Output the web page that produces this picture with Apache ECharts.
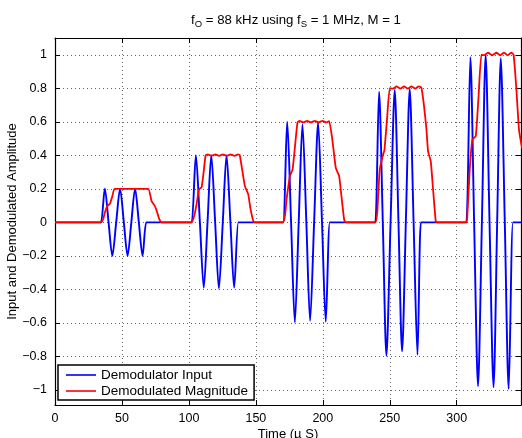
<!DOCTYPE html>
<html>
<head>
<meta charset="utf-8">
<script src="https://cdn.jsdelivr.net/npm/echarts@6/dist/echarts.min.js"></script>
<style>
html, body { margin: 0; padding: 0; background: #fff; }
#main { width: 522px; height: 438px; }
</style>
</head>
<body>
<div id="main"></div>
<script>
// 读图得到的数据 (时间单位 µs)
const inputTime = [
    0, 33,
    34.3, 37.2, 40.0, 42.8, 45.7, 48.6, 51.4, 54.2, 57.0, 59.8, 62.6, 65.4, 68.1, 69.5,
    101,
    102.1, 105.2, 108.2, 111.1, 113.9, 116.7, 119.6, 122.4, 125.3, 128.1, 131.0, 133.8, 136.9, 138.2,
    169,
    170.4, 173.4, 176.3, 179.1, 182.0, 184.8, 187.7, 190.5, 193.5, 196.5, 199.4, 202.2, 205.2, 206.5,
    238,
    239.2, 242.0, 244.8, 247.5, 250.6, 253.7, 256.5, 259.2, 262.0, 264.9, 267.8, 270.7, 273.2, 274.5,
    306,
    307.2, 310.2, 313.0, 315.9, 318.8, 321.6, 324.5, 327.5, 330.2, 332.9, 335.9, 338.8, 342.0, 343.3,
    349
]
const inputValue = [
    0, 0,
    0, 0.2, 0, -0.2, 0, 0.2, 0, -0.2, 0, 0.2, 0, -0.2, 0, 0,
    0,
    0, 0.4, 0, -0.39, 0, 0.4, 0, -0.395, 0, 0.4, 0, -0.39, 0, 0,
    0,
    0, 0.6, 0, -0.597, 0, 0.585, 0, -0.587, 0, 0.595, 0, -0.593, 0, 0,
    0,
    0, 0.78, 0, -0.796, 0, 0.79, 0, -0.77, 0, 0.796, 0, -0.79, 0, 0,
    0,
    0, 0.986, 0, -0.978, 0, 1.0, 0, -0.984, 0, 0.98, 0, -0.994, 0, 0,
    0
]
const magTime = [
    0, 34.3, 36, 37.3, 39.3, 41.0, 42.8, 44.5, 56, 69.6, 72.1, 74.6, 76.3, 77.8, 79.6,
    102.1, 104, 105.7, 107.5, 109.5, 111, 112.5, 114, 117, 119.7, 122.6, 125.4, 128.3, 131.1, 134, 136.8, 138, 141.8, 144.3, 146, 148, 149,
    170.4, 172.9, 175.4, 177.4, 179.3, 181.1, 182.6, 185.4, 188.3, 191.1, 194, 196.8, 199.7, 202.5, 204.7, 207, 209.7, 212.2, 214, 215.9, 217,
    239.2, 241.3, 242.5, 245, 246, 248, 250, 252.5, 255, 258, 260.7, 263.5, 266.2, 269, 271.6, 273.6, 275.5, 277.4, 278.6, 280.6, 282.5, 284.3, 285,
    307.2, 307.9, 309.7, 311.7, 314.2, 316.3, 318.4, 320.5, 323.4, 326.5, 329.6, 332.5, 335.3, 338, 340.8, 342.5, 344.5, 346.5, 348.3, 349
]
const magValue = [
    0, 0, 0.02, 0.06, 0.10, 0.11, 0.155, 0.2, 0.2, 0.2, 0.127, 0.097, 0.06, 0.02, 0,
    0, 0.04, 0.107, 0.196, 0.21, 0.3, 0.4, 0.405, 0.397, 0.405, 0.397, 0.405, 0.397, 0.405, 0.397, 0.405, 0.4, 0.216, 0.167, 0.08, 0.01, 0,
    0, 0.137, 0.276, 0.315, 0.46, 0.597, 0.606, 0.596, 0.606, 0.596, 0.606, 0.596, 0.606, 0.596, 0.604, 0.5, 0.325, 0.276, 0.15, 0.018, 0,
    0, 0.157, 0.315, 0.405, 0.43, 0.62, 0.8, 0.798, 0.811, 0.798, 0.811, 0.798, 0.811, 0.798, 0.811, 0.805, 0.7, 0.554, 0.424, 0.365, 0.18, 0.008, 0,
    0, 0.04, 0.315, 0.494, 0.514, 0.75, 1.0, 0.998, 1.012, 0.997, 1.012, 0.997, 1.012, 0.997, 1.012, 1.0, 0.8, 0.553, 0.464, 0.44
]
const xTicks = [0, 50, 100, 150, 200, 250, 300]
const yTicks = [-1, -0.8, -0.6, -0.4, -0.2, 0, 0.2, 0.4, 0.6, 0.8, 1]
const seriesNames = ['Demodulator Input', 'Demodulated Magnitude']

const font = 'Liberation Sans, Arial, Helvetica, sans-serif'

function zip(xs, ys) {
    return xs.map((x, i) => [x, ys[i]])
}

let myChart = echarts.init(document.getElementById('main'), null, { renderer: 'canvas' })

let axisLineStyle = { color: '#000', width: 1.2 }
let gridLine = { show: true, lineStyle: { color: '#666', width: 1, type: [1, 3] } }

let option = {
    animation: false,
    backgroundColor: '#fff',
    title: {
        text: '{n|f}{s|O}{n| = 88 kHz using f}{s|S}{n| = 1 MHz, M = 1}',
        left: 291,
        top: 6,
        textAlign: 'center',
        textStyle: {
            fontFamily: font,
            fontWeight: 'normal',
            rich: {
                n: { fontSize: 13.2, color: '#000', fontFamily: font },
                s: { fontSize: 9.5, color: '#000', fontFamily: font, padding: [8, 0, 0, 0] }
            }
        }
    },
    legend: {
        orient: 'vertical',
        left: 58,
        top: 365,
        data: seriesNames,
        icon: 'rect',
        itemWidth: 30,
        itemHeight: 1.6,
        itemGap: 2,
        padding: [3, 6, 2, 8],
        backgroundColor: '#fff',
        borderColor: '#000',
        borderWidth: 1.5,
        borderRadius: 0,
        textStyle: { fontFamily: font, fontSize: 13.5, color: '#000' }
    },
    grid: { left: 55, right: 1, top: 38, bottom: 33, containLabel: false, outerBoundsMode: 'none' },
    xAxis: [
        {
            type: 'value',
            min: 0,
            max: 348,
            position: 'bottom',
            name: 'Time (\u00b5 S)',
            nameLocation: 'middle',
            nameGap: 23,
            nameMoveOverlap: false,
            nameTextStyle: { fontFamily: font, fontSize: 13, color: '#000' },
            axisLine: { show: true, onZero: false, lineStyle: axisLineStyle },
            axisTick: { show: true, inside: true, length: 5, customValues: xTicks, lineStyle: { color: '#000' } },
            axisLabel: { customValues: xTicks, margin: 7, fontFamily: font, fontSize: 12.5, color: '#000' },
            splitLine: gridLine
        },
        {
            type: 'value',
            min: 0,
            max: 348,
            position: 'top',
            axisLine: { show: true, onZero: false, lineStyle: axisLineStyle },
            axisTick: { show: true, inside: true, length: 5, customValues: xTicks, lineStyle: { color: '#000' } },
            axisLabel: { show: false },
            splitLine: { show: false }
        }
    ],
    yAxis: [
        {
            type: 'value',
            min: -1.09,
            max: 1.1,
            position: 'left',
            name: 'Input and Demodulated Amplitude',
            nameLocation: 'middle',
            nameGap: 36,
            nameMoveOverlap: false,
            nameTextStyle: { fontFamily: font, fontSize: 13, color: '#000' },
            axisLine: { show: true, onZero: false, lineStyle: axisLineStyle },
            axisTick: { show: true, inside: true, length: 5, customValues: yTicks, lineStyle: { color: '#000' } },
            axisLabel: {
                customValues: yTicks,
                margin: 8,
                fontFamily: font,
                fontSize: 12.5,
                color: '#000',
                formatter: v => String(v).replace('-', '\u2212')
            },
            splitLine: gridLine
        },
        {
            type: 'value',
            min: -1.09,
            max: 1.1,
            position: 'right',
            axisLine: { show: true, onZero: false, lineStyle: axisLineStyle },
            axisTick: { show: true, inside: true, length: 5, customValues: yTicks, lineStyle: { color: '#000' } },
            axisLabel: { show: false },
            splitLine: { show: false }
        }
    ],
    series: [
        {
            name: seriesNames[0],
            type: 'line',
            data: zip(inputTime, inputValue),
            showSymbol: false,
            smooth: 0.3,
            lineStyle: { color: '#0000ff', width: 1.9 },
            itemStyle: { color: '#0000ff' }
        },
        {
            name: seriesNames[1],
            type: 'line',
            data: zip(magTime, magValue),
            showSymbol: false,
            smooth: 0.15,
            lineStyle: { color: '#ff0000', width: 1.8 },
            itemStyle: { color: '#ff0000' }
        }
    ]
}
myChart.setOption(option)
</script>
</body>
</html>
